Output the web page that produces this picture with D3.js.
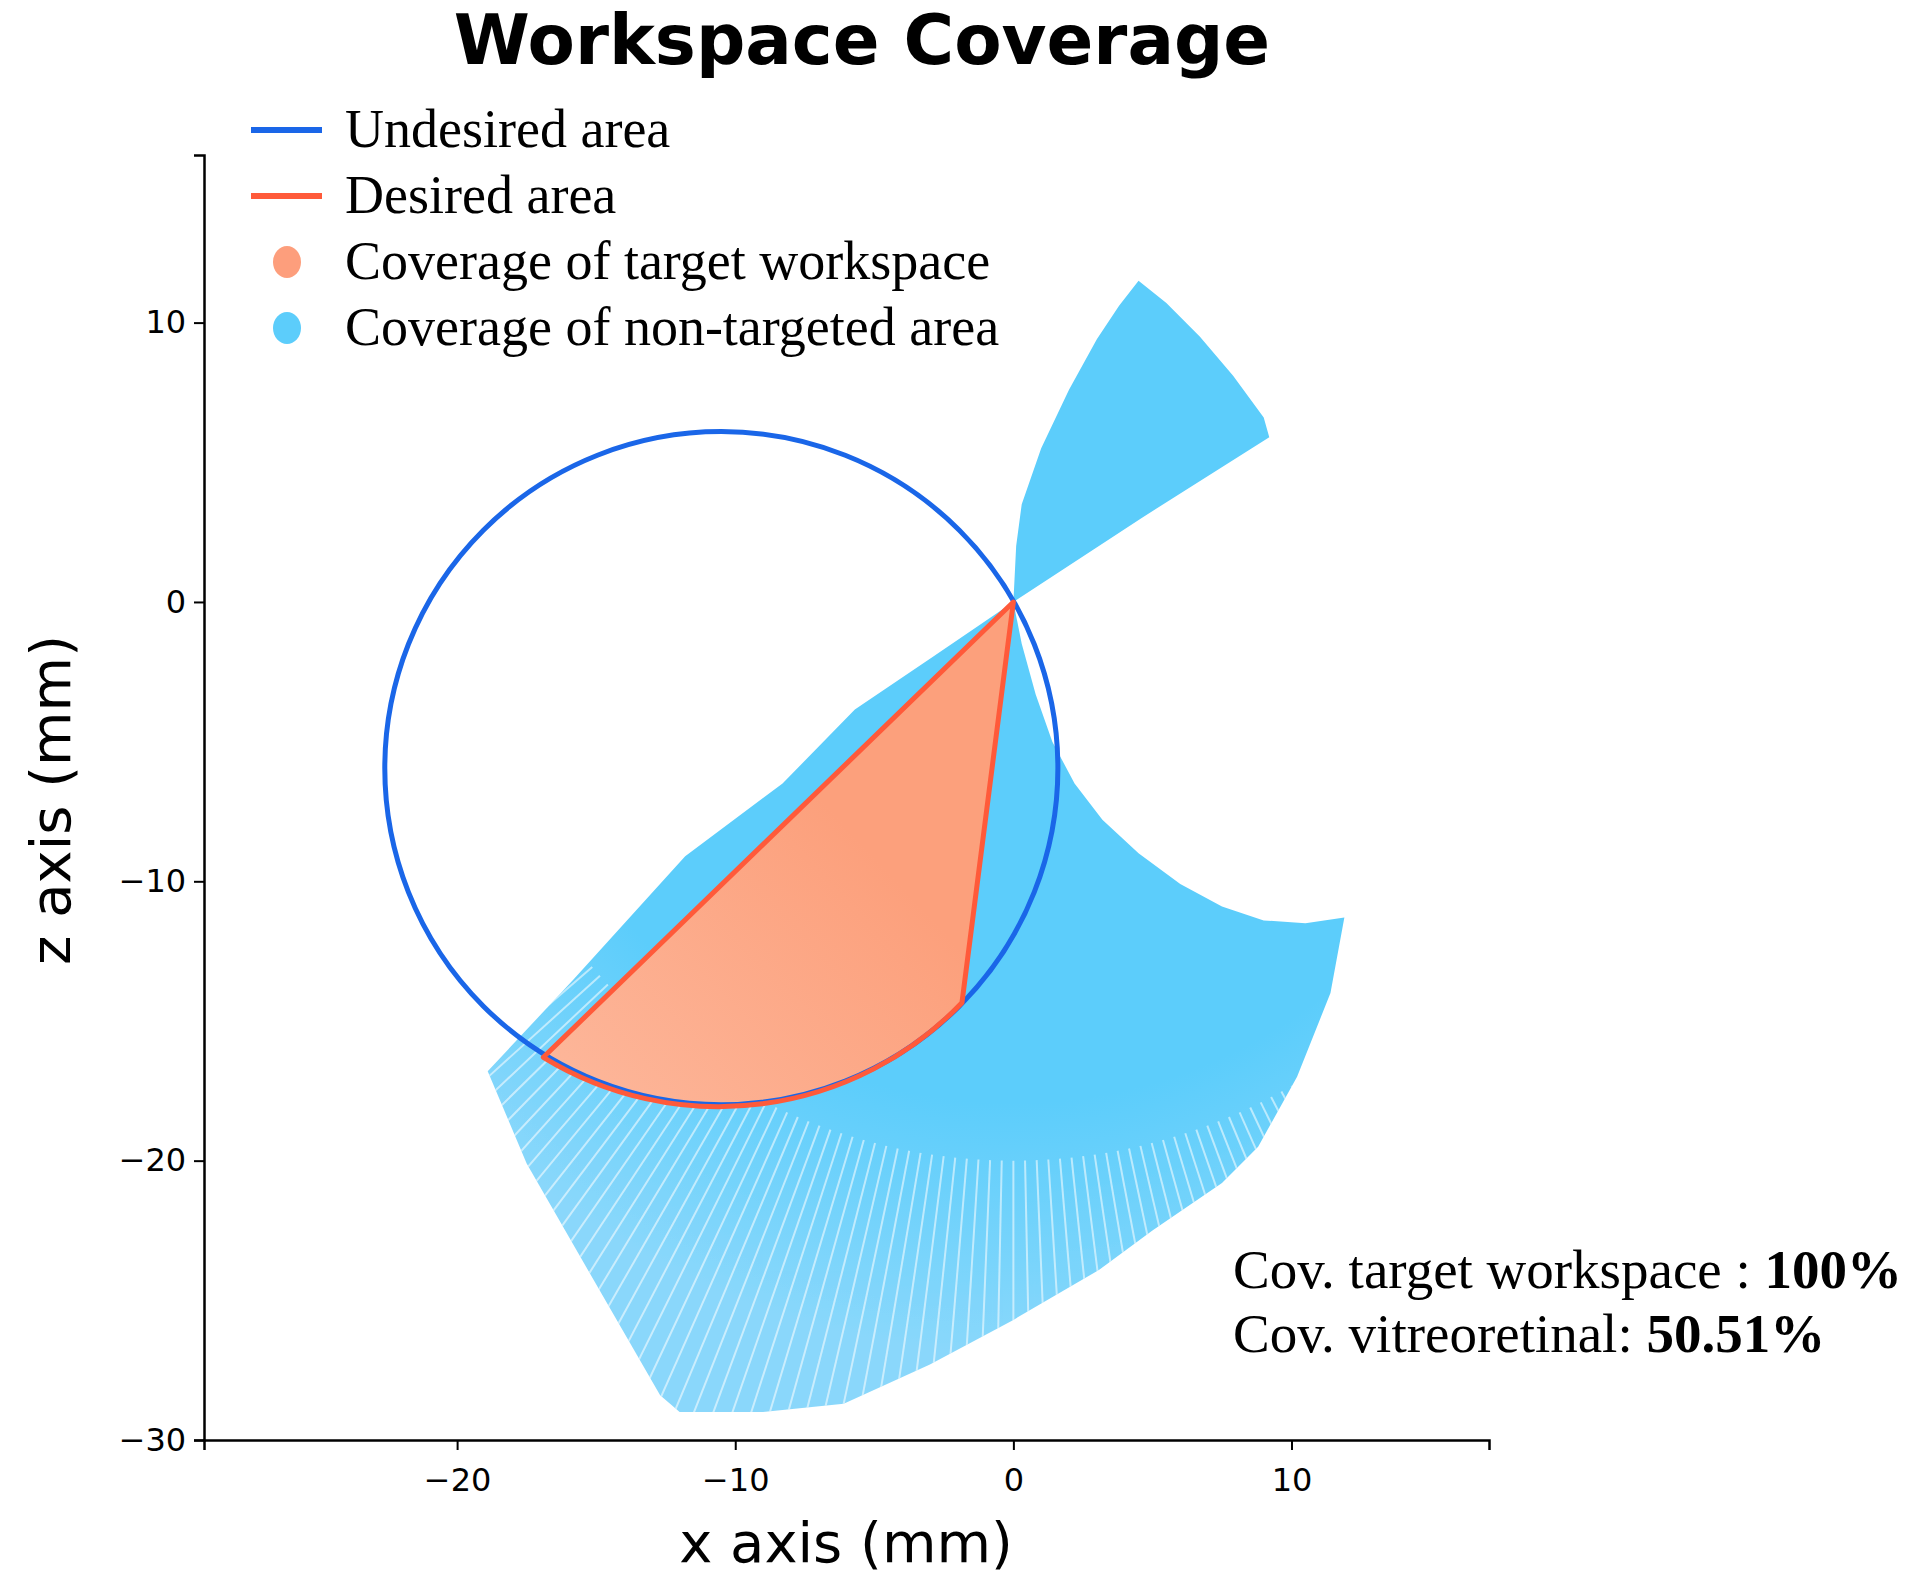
<!DOCTYPE html>
<html>
<head>
<meta charset="utf-8">
<script src="https://cdn.jsdelivr.net/npm/d3@7"></script>
<style>
  body { margin: 0; background: #fff; }
  text { fill: #000; }
</style>
</head>
<body>
<svg id="chart" width="1917" height="1595"></svg>
<script>
// données (mm)
const xTicks = [-20, -10, 0, 10];
const zTicks = [10, 0, -10, -20, -30];

// cercle "undesired area"
const circleCenter = [-10.5, -5.95];
const circleRadius = 12.1;

// zone couverte non ciblée (partie basse)
const lowerCoverage = [
  [0, 0], [-2.8, -1.9], [-5.7, -3.85], [-8.3, -6.5], [-11.8, -9.1], [-15.8, -13.5], [-18.9, -16.8],
  [-17.5, -20.1], [-16.0, -22.7], [-12.7, -28.4], [-12.0, -29.0], [-9.0, -29.0],
  [-6.1, -28.7], [-3.0, -27.3], [0, -25.7], [3.1, -23.9], [5.0, -22.5], [7.5, -20.8],
  [8.8, -19.5], [10.2, -17.0], [11.4, -14.0], [11.9, -11.3],
  [10.5, -11.5], [9.0, -11.4], [7.5, -10.9], [6.0, -10.1], [4.5, -9.0], [3.2, -7.8],
  [2.2, -6.5], [1.4, -5.0], [0.8, -3.3], [0.3, -1.5]
];

// zone couverte non ciblée (partie haute)
const upperCoverage = [
  [0, 0], [0.1, 2.0], [0.3, 3.5], [1.0, 5.5], [2.0, 7.6], [3.0, 9.4], [3.8, 10.6], [4.5, 11.5],
  [5.5, 10.7], [6.7, 9.5], [7.9, 8.1], [9.0, 6.6], [9.2, 5.9], [4.6, 3.0]
];

// sommets de la zone désirée (le bas suit le cercle)
const desiredStart = [0, 0];
const desiredLeft = [-16.9, -16.3];
const desiredRight = [-1.85, -14.35];

const legendItems = [
  { label: 'Undesired area', type: 'line', color: '#1a66e8' },
  { label: 'Desired area', type: 'line', color: '#ff5a3a' },
  { label: 'Coverage of target workspace', type: 'dot', color: '#fd9e7c' },
  { label: 'Coverage of non-targeted area', type: 'dot', color: '#5ccdfb' }
];

const svg = d3.select('#chart');

const x = d3.scaleLinear().domain([-29.1, 17.1]).range([204, 1489]);
const y = d3.scaleLinear().domain([-30, 16]).range([1440, 155]);

const line = d3.line().x(d => x(d[0])).y(d => y(d[1]));

// dégradé léger vers le bas-gauche
const defs = svg.append('defs');
const grad = defs.append('radialGradient')
  .attr('id', 'blueGrad')
  .attr('gradientUnits', 'userSpaceOnUse')
  .attr('cx', x(0)).attr('cy', y(0)).attr('r', x(30) - x(0));
grad.append('stop').attr('offset', '0.6').attr('stop-color', '#5ccdfb');
grad.append('stop').attr('offset', '0.9').attr('stop-color', '#8ad8fb');

defs.append('clipPath').attr('id', 'lowClip')
  .append('path').attr('d', line(lowerCoverage) + 'Z');

// Zones bleues
svg.append('path')
  .attr('d', line(lowerCoverage) + 'Z')
  .attr('fill', 'url(#blueGrad)');
svg.append('path')
  .attr('d', line(upperCoverage) + 'Z')
  .attr('fill', '#5ccdfb');

// rayures radiales (effet des points)
const stripes = svg.append('g').attr('clip-path', 'url(#lowClip)');
d3.range(-150, -40, 1.2).forEach(a => {
  const r = a * Math.PI / 180;
  stripes.append('line')
    .attr('x1', x(20 * Math.cos(r))).attr('y1', y(20 * Math.sin(r)))
    .attr('x2', x(32 * Math.cos(r))).attr('y2', y(32 * Math.sin(r)))
    .attr('stroke', '#fff').attr('stroke-width', 2).attr('opacity', 0.55);
});

// Zone désirée : deux côtés droits + arc du cercle
const cx = x(circleCenter[0]), cy = y(circleCenter[1]);
const rPx = x(circleRadius) - x(0);
const desiredPath = `M${x(desiredStart[0])},${y(desiredStart[1])}`
  + `L${x(desiredLeft[0])},${y(desiredLeft[1])}`
  + `A${rPx},${rPx} 0 0 0 ${x(desiredRight[0])},${y(desiredRight[1])}Z`;

const redGrad = defs.append('linearGradient').attr('id', 'redGrad')
  .attr('x1', '0').attr('y1', '1').attr('x2', '1').attr('y2', '0');
redGrad.append('stop').attr('offset', '0').attr('stop-color', '#fdb89c');
redGrad.append('stop').attr('offset', '0.6').attr('stop-color', '#fca07c');

svg.append('path').attr('d', desiredPath).attr('fill', 'url(#redGrad)');

// Cercle bleu
svg.append('circle')
  .attr('cx', cx).attr('cy', cy).attr('r', rPx)
  .attr('fill', 'none').attr('stroke', '#1a66e8').attr('stroke-width', 5);

svg.append('path').attr('d', desiredPath)
  .attr('fill', 'none').attr('stroke', '#ff5a3a').attr('stroke-width', 5)
  .attr('stroke-linejoin', 'round');

// Axes
const fmt = d => d < 0 ? '\u2212' + Math.abs(d) : d;
const xAxis = svg.append('g')
  .attr('transform', `translate(0,${y(-30)})`)
  .call(d3.axisBottom(x).tickValues(xTicks).tickSize(10).tickFormat(fmt));
const yAxis = svg.append('g')
  .attr('transform', `translate(${x(-29.1)},0)`)
  .call(d3.axisLeft(y).tickValues(zTicks).tickSize(10).tickFormat(fmt));
[xAxis, yAxis].forEach(a => {
  a.select('.domain').attr('stroke-width', 2.5);
  a.selectAll('.tick line').attr('stroke-width', 2);
  a.selectAll('text').attr('font-family', 'DejaVu Sans').attr('font-size', 32);
});
xAxis.selectAll('text').attr('dy', '1.2em');
yAxis.selectAll('text').attr('dx', '-0.15em');

// Titres
svg.append('text')
  .attr('x', 862).attr('y', 64).attr('text-anchor', 'middle')
  .attr('font-family', 'DejaVu Sans').attr('font-weight', 'bold').attr('font-size', 69)
  .text('Workspace Coverage');

svg.append('text')
  .attr('x', 846).attr('y', 1562).attr('text-anchor', 'middle')
  .attr('font-family', 'DejaVu Sans').attr('font-size', 56)
  .text('x axis (mm)');

svg.append('text')
  .attr('transform', 'translate(70,800) rotate(-90)').attr('text-anchor', 'middle')
  .attr('font-family', 'DejaVu Sans').attr('font-size', 56)
  .text('z axis (mm)');

// Légende
const legend = svg.append('g');
legendItems.forEach((d, i) => {
  const yy = 130 + i * 66;
  if (d.type === 'line') {
    legend.append('line').attr('x1', 251).attr('x2', 322).attr('y1', yy).attr('y2', yy)
      .attr('stroke', d.color).attr('stroke-width', 6);
  } else {
    legend.append('ellipse').attr('cx', 287).attr('cy', yy).attr('rx', 14).attr('ry', 16)
      .attr('fill', d.color);
  }
  legend.append('text').attr('x', 345).attr('y', yy + 17)
    .attr('font-family', 'Liberation Serif').attr('font-size', 54)
    .text(d.label);
});

// Annotations
const ann = svg.append('g').attr('font-family', 'Liberation Serif').attr('font-size', 55);
const t1 = ann.append('text').attr('x', 1233).attr('y', 1288);
t1.append('tspan').text('Cov. target workspace : ');
t1.append('tspan').attr('font-weight', 'bold').text('100%');
const t2 = ann.append('text').attr('x', 1233).attr('y', 1352);
t2.append('tspan').text('Cov. vitreoretinal: ');
t2.append('tspan').attr('font-weight', 'bold').text('50.51%');
</script>
</body>
</html>
